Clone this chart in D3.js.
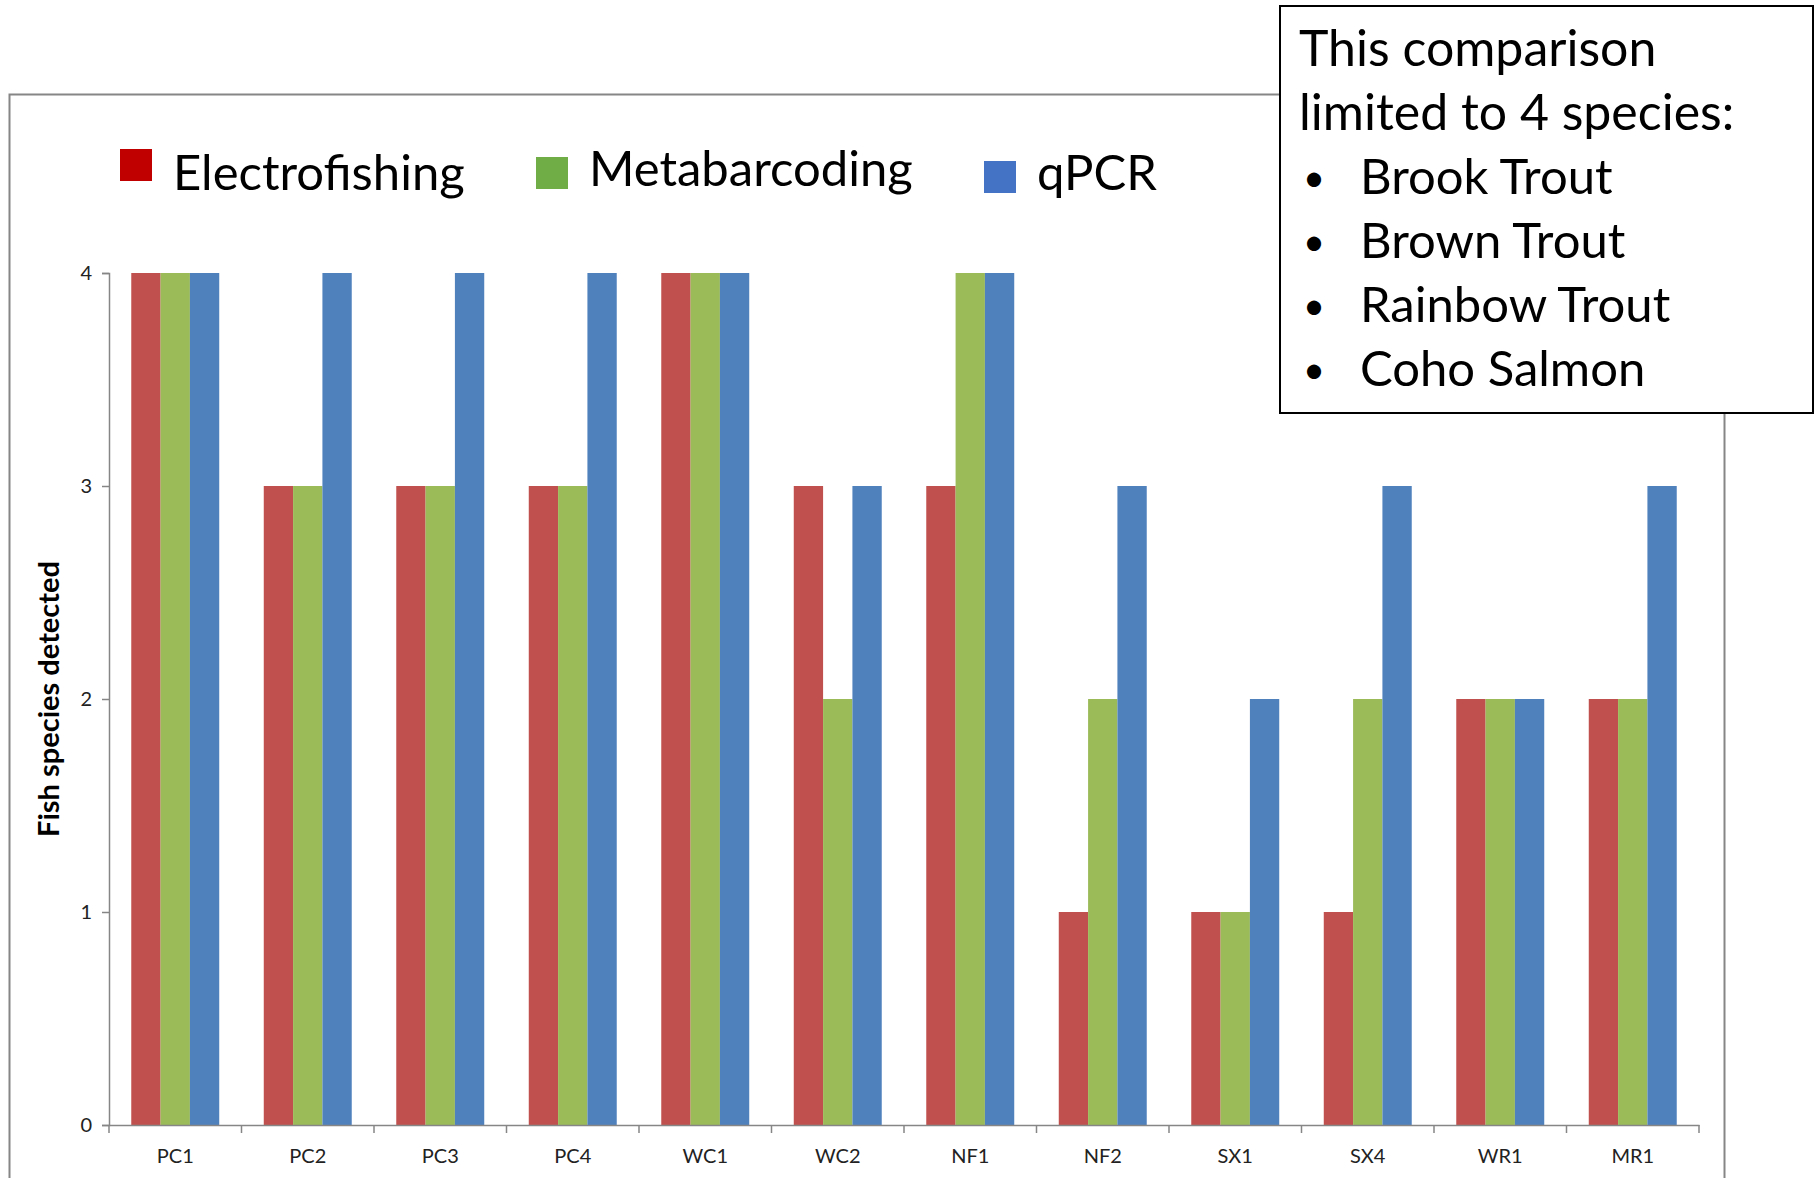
<!DOCTYPE html>
<html>
<head>
<meta charset="utf-8">
<script src="https://cdn.jsdelivr.net/npm/d3@7"></script>
<style>
  body { margin: 0; background: #fff; }
  svg { display: block; font-family: Lato, "Open Sans", sans-serif; }
</style>
</head>
<body>
<div id="chart"></div>
<script>
const width = 1820;
const height = 1178;

// data
const sites = ["PC1", "PC2", "PC3", "PC4", "WC1", "WC2", "NF1", "NF2", "SX1", "SX4", "WR1", "MR1"];
const methods = ["Electrofishing", "Metabarcoding", "qPCR"];
const electrofishing = [4, 3, 3, 3, 4, 3, 3, 1, 1, 1, 2, 2];
const metabarcoding = [4, 3, 3, 3, 4, 2, 4, 2, 1, 2, 2, 2];
const qpcr = [4, 4, 4, 4, 4, 3, 4, 3, 2, 3, 2, 3];
const yTicks = [0, 1, 2, 3, 4];
const noteLines = ["This comparison", "limited to 4 species:"];
const noteSpecies = ["Brook Trout", "Brown Trout", "Rainbow Trout", "Coho Salmon"];

const barColors = ["#C0504D", "#9BBB59", "#4F81BD"];
const legendColors = ["#C00000", "#70AD47", "#4472C4"];
const axisGray = "#868686";

const seriesByMethod = [electrofishing, metabarcoding, qpcr];
const rows = sites.map((s, i) => ({
    site: s,
    values: methods.map((m, j) => ({ method: m, value: seriesByMethod[j][i] }))
}));

const svg = d3.select("#chart").append("svg")
    .attr("width", width)
    .attr("height", height);

// outer chart frame
svg.append("rect")
    .attr("x", 9.5).attr("y", 94.5)
    .attr("width", 1715).attr("height", 1200)
    .attr("fill", "#fff")
    .attr("stroke", axisGray).attr("stroke-width", 2);

const plotLeft = 109, plotRight = 1699, plotTop = 273, plotBottom = 1125;

const scaleX = d3.scaleBand()
    .domain(sites)
    .range([plotLeft, plotRight]);

const scaleGroup = d3.scaleBand()
    .domain(methods)
    .range([scaleX.bandwidth() * 0.168, scaleX.bandwidth() * 0.832]);

const scaleY = d3.scaleLinear()
    .domain([0, 4])
    .range([plotBottom, plotTop]);

// bars
const groups = svg.append("g").selectAll("g")
    .data(rows)
    .join("g")
    .attr("transform", d => `translate(${scaleX(d.site)},0)`);

groups.selectAll("rect")
    .data(d => d.values)
    .join("rect")
    .attr("x", d => scaleGroup(d.method))
    .attr("y", d => scaleY(d.value))
    .attr("width", scaleGroup.bandwidth())
    .attr("height", d => scaleY(0) - scaleY(d.value))
    .attr("fill", (d, i) => barColors[i]);

// y axis
const axisY = d3.axisLeft(scaleY).tickValues(yTicks).tickFormat(d3.format("d")).tickSize(7).tickPadding(10);
const gy = svg.append("g")
    .attr("transform", `translate(${plotLeft},0)`)
    .call(axisY);
gy.select(".domain").attr("stroke", axisGray).attr("stroke-width", 1.5);
gy.selectAll(".tick line").attr("stroke", axisGray).attr("stroke-width", 1.5);
gy.selectAll(".tick text").attr("font-size", 20).attr("fill", "#222").attr("font-family", "Lato, sans-serif");

// x axis
const axisX = d3.axisBottom(scaleX).tickSize(0).tickPadding(24);
const gx = svg.append("g")
    .attr("transform", `translate(0,${plotBottom})`)
    .call(axisX);
gx.select(".domain").attr("stroke", axisGray).attr("stroke-width", 1.5);
gx.selectAll(".tick text").attr("font-size", 20).attr("fill", "#222").attr("font-family", "Lato, sans-serif");

// x tick marks between categories
gx.append("g").selectAll("line")
    .data(sites.concat(["end"]))
    .join("line")
    .attr("x1", (d, i) => i < sites.length ? scaleX(d) : plotRight)
    .attr("x2", (d, i) => i < sites.length ? scaleX(d) : plotRight)
    .attr("y1", 0).attr("y2", 8)
    .attr("stroke", axisGray).attr("stroke-width", 1.5);

// y axis title
svg.append("text")
    .attr("transform", `translate(59,${(plotTop + plotBottom) / 2}) rotate(-90)`)
    .attr("text-anchor", "middle")
    .attr("font-size", 29)
    .attr("font-weight", "bold")
    .attr("fill", "#000")
    .text("Fish species detected");

// legend
const legendItems = [
    { x: 120, sqY: 149, textX: 173, baseline: 190 },
    { x: 536, sqY: 157, textX: 589, baseline: 186 },
    { x: 984, sqY: 161, textX: 1037, baseline: 190 }
];
const legend = svg.append("g").selectAll("g")
    .data(methods)
    .join("g");
legend.append("rect")
    .attr("x", (d, i) => legendItems[i].x)
    .attr("y", (d, i) => legendItems[i].sqY)
    .attr("width", 32).attr("height", 32)
    .attr("fill", (d, i) => legendColors[i]);
legend.append("text")
    .attr("x", (d, i) => legendItems[i].textX)
    .attr("y", (d, i) => legendItems[i].baseline)
    .attr("font-size", 49)
    .attr("fill", "#000")
    .text(d => d);

// note box
const note = svg.append("g");
note.append("rect")
    .attr("x", 1280).attr("y", 6)
    .attr("width", 533).attr("height", 407)
    .attr("fill", "#fff")
    .attr("stroke", "#000").attr("stroke-width", 2);
note.selectAll("text.head")
    .data(noteLines)
    .join("text")
    .attr("class", "head")
    .attr("x", 1299)
    .attr("y", (d, i) => 66 + i * 64)
    .attr("font-size", 50)
    .attr("fill", "#000")
    .text(d => d);
note.selectAll("text.bullet")
    .data(noteSpecies)
    .join("text")
    .attr("class", "bullet")
    .attr("x", 1303)
    .attr("y", (d, i) => 191 + i * 64)
    .attr("font-size", 38)
    .attr("fill", "#000")
    .text("•");
note.selectAll("text.item")
    .data(noteSpecies)
    .join("text")
    .attr("class", "item")
    .attr("x", 1360)
    .attr("y", (d, i) => 194 + i * 64)
    .attr("font-size", 49)
    .attr("fill", "#000")
    .text(d => d);
</script>
</body>
</html>
